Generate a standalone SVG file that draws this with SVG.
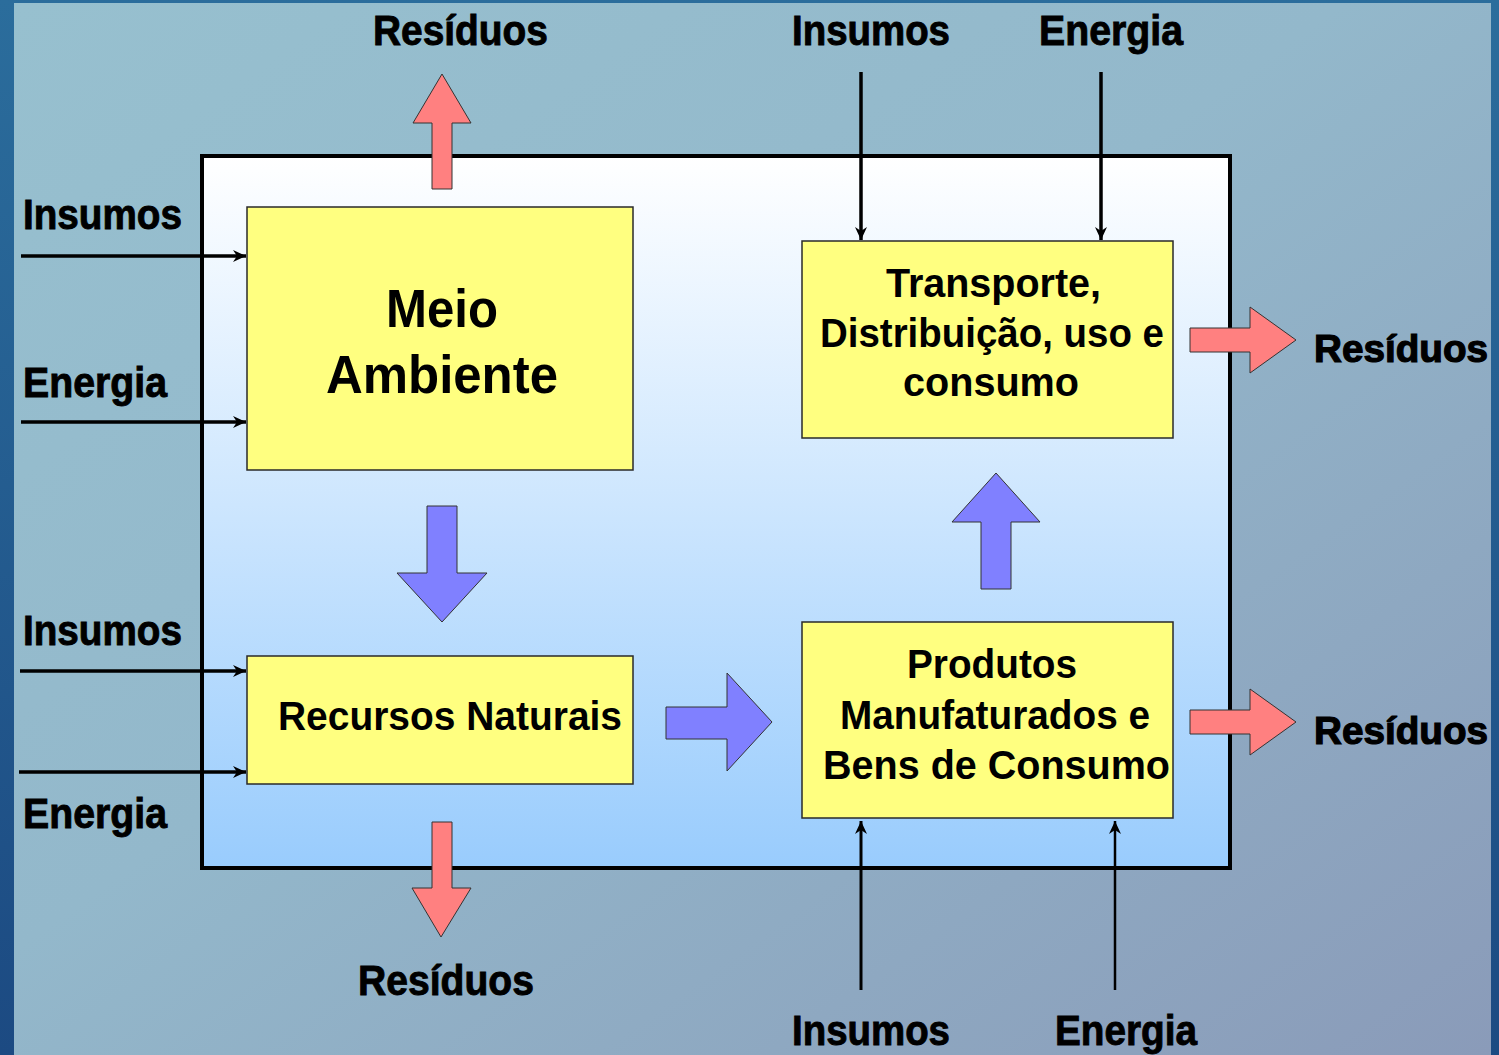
<svg xmlns="http://www.w3.org/2000/svg" width="1499" height="1055" viewBox="0 0 1499 1055">
<defs>
<linearGradient id="bgOuter" x1="0" y1="0" x2="0" y2="1">
<stop offset="0" stop-color="#2b6d9c"/>
<stop offset="1" stop-color="#1c4a82"/>
</linearGradient>
<linearGradient id="bgInner" x1="0" y1="0" x2="1" y2="1">
<stop offset="0" stop-color="#97c0cf"/>
<stop offset="0.45" stop-color="#93b8cb"/>
<stop offset="1" stop-color="#8a9bb9"/>
</linearGradient>
<linearGradient id="frameFill" x1="0" y1="0" x2="0" y2="1">
<stop offset="0" stop-color="#ffffff"/>
<stop offset="1" stop-color="#99ccfd"/>
</linearGradient>
<marker id="ah" markerUnits="userSpaceOnUse" markerWidth="16" markerHeight="14" refX="13" refY="7" orient="auto">
<path d="M0,1 L13,7 L0,13 L4,7 z" fill="#000"/>
</marker>
<style>
.box{fill:#ffff80;stroke:#2a2a2a;stroke-width:1.5}
.lbl{font-family:"Liberation Sans",Arial,sans-serif;font-weight:bold;font-size:42px;fill:#000;stroke:#000;stroke-width:0.9}
.lbl.r{font-size:39px;stroke-width:1.2}
.btxt{font-family:"Liberation Sans",Arial,sans-serif;font-weight:bold;font-size:40px;fill:#000;text-anchor:start}
.big{font-family:"Liberation Sans",Arial,sans-serif;font-weight:bold;font-size:54px;fill:#000}
.pink{fill:#ff8080;stroke:#333;stroke-width:1}
.blue{fill:#8080ff;stroke:#333;stroke-width:1}
.conn{stroke:#000;stroke-width:3.5;fill:none;marker-end:url(#ah)}
</style>
</defs>

<g id="background">
<rect x="0" y="0" width="1499" height="1055" fill="url(#bgOuter)"/>
<rect x="14" y="3" width="1477" height="1052" fill="url(#bgInner)"/>
</g>

<g id="frame">
<rect x="202" y="156" width="1028" height="712" fill="url(#frameFill)" stroke="#000" stroke-width="4"/>
</g>

<g id="meio-ambiente">
<rect class="box" x="247" y="207" width="386" height="263"/>
<text class="big" x="442" y="327" text-anchor="middle" textLength="112" lengthAdjust="spacingAndGlyphs">Meio</text>
<text class="big" x="442" y="393" text-anchor="middle" textLength="232" lengthAdjust="spacingAndGlyphs">Ambiente</text>
</g>

<g id="recursos-naturais">
<rect class="box" x="247" y="656" width="386" height="128"/>
<text class="btxt" x="278" y="730" textLength="344" lengthAdjust="spacingAndGlyphs">Recursos Naturais</text>
</g>

<g id="transporte">
<rect class="box" x="802" y="241" width="371" height="197"/>
<text class="btxt" x="886" y="297" textLength="215" lengthAdjust="spacingAndGlyphs">Transporte,</text>
<text class="btxt" x="820" y="347" textLength="344" lengthAdjust="spacingAndGlyphs">Distribuição, uso e</text>
<text class="btxt" x="903" y="396" textLength="176" lengthAdjust="spacingAndGlyphs">consumo</text>
</g>

<g id="produtos">
<rect class="box" x="802" y="622" width="371" height="196"/>
<text class="btxt" x="907" y="678" textLength="170" lengthAdjust="spacingAndGlyphs">Produtos</text>
<text class="btxt" x="840" y="729" textLength="310" lengthAdjust="spacingAndGlyphs">Manufaturados e</text>
<text class="btxt" x="823" y="779" textLength="347" lengthAdjust="spacingAndGlyphs">Bens de Consumo</text>
</g>

<g id="block-arrows">
<polygon class="pink" points="432,189 432,123 413,123 442,74 471,123 452,123 452,189"/>
<polygon class="pink" points="432,822 452,822 452,888 471,888 441,937 412,888 432,888"/>
<polygon class="pink" points="1190,328 1250,328 1250,307 1296,340 1250,373 1250,352 1190,352"/>
<polygon class="pink" points="1190,710 1250,710 1250,689 1296,722 1250,755 1250,734 1190,734"/>
<polygon class="blue" points="427,506 457,506 457,573 487,573 442,622 397,573 427,573"/>
<polygon class="blue" points="666,707 727,707 727,673 772,722 727,771 727,739 666,739"/>
<polygon class="blue" points="981,589 981,522 952,522 996,473 1040,522 1011,522 1011,589"/>
</g>

<g id="connectors">
<line class="conn" x1="21" y1="256" x2="246" y2="256"/>
<line class="conn" x1="21" y1="422" x2="246" y2="422"/>
<line class="conn" x1="20" y1="671" x2="246" y2="671"/>
<line class="conn" x1="19" y1="772" x2="246" y2="772"/>
<line class="conn" x1="861" y1="72" x2="861" y2="240"/>
<line class="conn" x1="1101" y1="72" x2="1101" y2="240"/>
<line class="conn" x1="861" y1="990" x2="861" y2="821" style="stroke-width:3"/>
<line class="conn" x1="1115" y1="990" x2="1115" y2="821" style="stroke-width:2.5"/>
</g>

<g id="labels">
<text class="lbl" x="373" y="45" textLength="175" lengthAdjust="spacingAndGlyphs">Resíduos</text>
<text class="lbl" x="792" y="45" textLength="158" lengthAdjust="spacingAndGlyphs">Insumos</text>
<text class="lbl" x="1039" y="45" textLength="144" lengthAdjust="spacingAndGlyphs">Energia</text>
<text class="lbl" x="23" y="229" textLength="159" lengthAdjust="spacingAndGlyphs">Insumos</text>
<text class="lbl" x="23" y="397" textLength="144" lengthAdjust="spacingAndGlyphs">Energia</text>
<text class="lbl" x="23" y="645" textLength="159" lengthAdjust="spacingAndGlyphs">Insumos</text>
<text class="lbl" x="23" y="828" textLength="144" lengthAdjust="spacingAndGlyphs">Energia</text>
<text class="lbl r" x="1314" y="362" textLength="174" lengthAdjust="spacingAndGlyphs">Resíduos</text>
<text class="lbl r" x="1314" y="744" textLength="174" lengthAdjust="spacingAndGlyphs">Resíduos</text>
<text class="lbl" x="358" y="995" textLength="176" lengthAdjust="spacingAndGlyphs">Resíduos</text>
<text class="lbl" x="792" y="1045" textLength="158" lengthAdjust="spacingAndGlyphs">Insumos</text>
<text class="lbl" x="1055" y="1045" textLength="142" lengthAdjust="spacingAndGlyphs">Energia</text>
</g>
</svg>
